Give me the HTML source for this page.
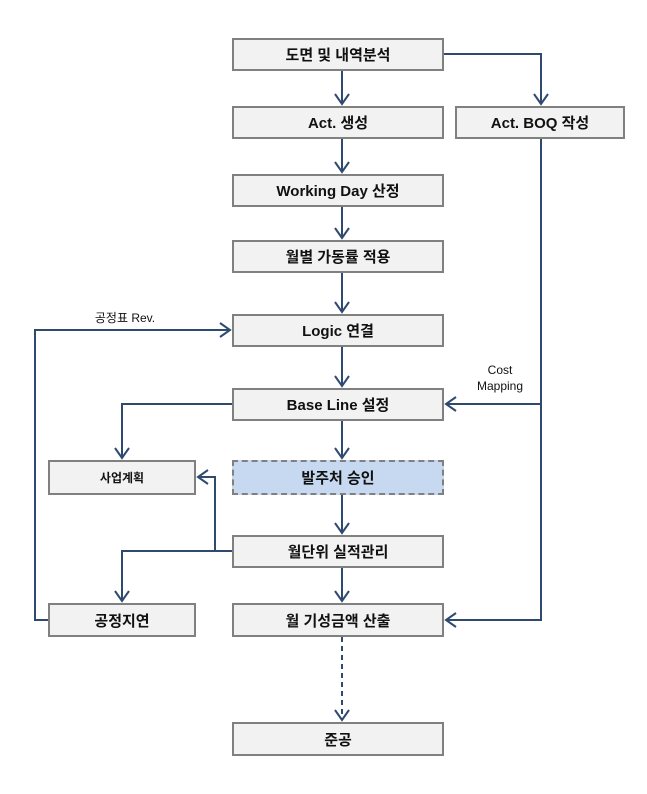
<!DOCTYPE html>
<html><head><meta charset="utf-8"><style>
html,body{margin:0;padding:0;background:#fff;}
body{width:647px;height:794px;position:relative;overflow:hidden;font-family:"Liberation Sans","Noto Sans CJK KR",sans-serif;}
.b{position:absolute;box-sizing:border-box;background:#f2f2f2;border:2px solid #808080;display:flex;align-items:center;justify-content:center;font-size:15px;font-weight:bold;color:#111;}
.d{background:#c6d9f0;border:2px dashed #808080;}
svg{position:absolute;left:0;top:0;}
.t{position:absolute;font-size:12px;color:#111;text-align:center;line-height:16px;}
</style></head><body>
<svg width="647" height="794" viewBox="0 0 647 794">
<g fill="none" stroke="#2e4a6e" stroke-width="2">
<path d="M342 70V104M342 138V172M342 206V238M342 272V312M342 346V386M342 420V458M342 494V533M342 568V601"/>
<path d="M444 54H541V104M541 138V620H446M541 404H446"/>
<path d="M48 620H35V330H230"/>
<path d="M232 404H122V458M232 551H122V601M215 551V477H198"/>
<path d="M342 637V720" stroke-dasharray="5,4"/>
<g stroke-width="2">
<path d="M335 94L342 104L349 94M335 162L342 172L349 162M335 228L342 238L349 228M335 302L342 312L349 302M335 376L342 386L349 376M335 448L342 458L349 448M335 523L342 533L349 523M335 591L342 601L349 591M335 710L342 720L349 710"/>
<path d="M534 94L541 104L548 94"/>
<path d="M456 397L446 404L456 411M456 613L446 620L456 627"/>
<path d="M220 323L230 330L220 337"/>
<path d="M115 448L122 458L129 448M115 591L122 601L129 591"/>
<path d="M208 470L198 477L208 484"/>
</g></g></svg>
<div class="b" style="left:232px;top:38px;width:212px;height:33px">도면 및 내역분석</div>
<div class="b" style="left:232px;top:106px;width:212px;height:33px">Act. 생성</div>
<div class="b" style="left:455px;top:106px;width:170px;height:33px">Act. BOQ 작성</div>
<div class="b" style="left:232px;top:174px;width:212px;height:33px">Working Day 산정</div>
<div class="b" style="left:232px;top:240px;width:212px;height:33px">월별 가동률 적용</div>
<div class="b" style="left:232px;top:314px;width:212px;height:33px">Logic 연결</div>
<div class="b" style="left:232px;top:388px;width:212px;height:33px">Base Line 설정</div>
<div class="b d" style="left:232px;top:460px;width:212px;height:35px">발주처 승인</div>
<div class="b" style="left:48px;top:460px;width:148px;height:35px;font-size:12px">사업계획</div>
<div class="b" style="left:232px;top:535px;width:212px;height:33px">월단위 실적관리</div>
<div class="b" style="left:48px;top:603px;width:148px;height:34px">공정지연</div>
<div class="b" style="left:232px;top:603px;width:212px;height:34px">월 기성금액 산출</div>
<div class="b" style="left:232px;top:722px;width:212px;height:34px">준공</div>
<div class="t" style="left:80px;top:310px;width:90px">공정표 Rev.</div>
<div class="t" style="left:470px;top:362px;width:60px">Cost<br>Mapping</div>
</body></html>
